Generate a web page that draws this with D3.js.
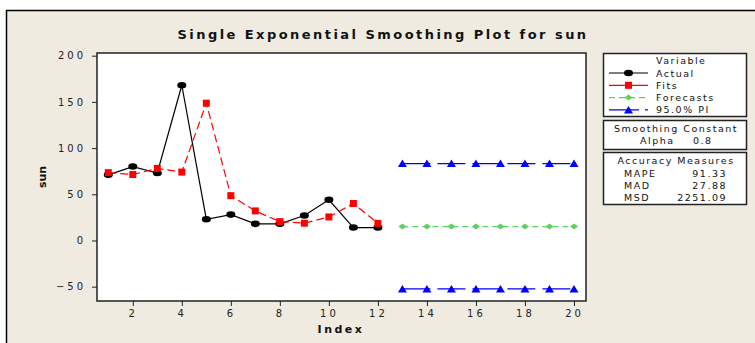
<!DOCTYPE html>
<html lang="en">
<head>
<meta charset="utf-8">
<title>Single Exponential Smoothing Plot for sun</title>
<style>
body{
  margin: 0;
  background: #fff;
}
svg text{
  font-family: "DejaVu Sans", Verdana, sans-serif;
  fill: #111;
}
.axis text{
  font-size: 10px;
  letter-spacing: 3px;
  fill: #222;
}
.axis line{
  stroke: #222;
}
.axis path{
  display: none;
}
.leg text{
  font-size: 9.5px;
  letter-spacing: 1.5px;
}
</style>
</head>
<body>
<div id="chart"></div>
<script src="https://d3js.org/d3.v7.min.js"></script>
<script>
  // values
  const actualIdx = [1, 2, 3, 4, 5, 6, 7, 8, 9, 10, 11, 12];
  const actual = [71, 80, 73, 168, 23, 28, 18, 18, 27, 44, 14, 14];
  const fits = [73.4, 71.4, 78, 74, 148.6, 48.5, 32, 20.4, 18.7, 25.5, 40, 18.5];
  const foreIdx = [13, 14, 15, 16, 17, 18, 19, 20];
  const forecasts = [15.1, 15.1, 15.1, 15.1, 15.1, 15.1, 15.1, 15.1];
  const upperPI = [83.2, 83.2, 83.2, 83.2, 83.2, 83.2, 83.2, 83.2];
  const lowerPI = [-52.4, -52.4, -52.4, -52.4, -52.4, -52.4, -52.4, -52.4];
  const xTicks = [2, 4, 6, 8, 10, 12, 14, 16, 18, 20];
  const yTicks = [-50, 0, 50, 100, 150, 200];
  const accuracy = [["MAPE", "91.33"], ["MAD", "27.88"], ["MSD", "2251.09"]];

  const width = 755, height = 343;
  const plot = { left: 97, top: 53, right: 586, bottom: 301 };

  const svg = d3.select("#chart")
    .append("svg")
    .attr("width", width)
    .attr("height", height);

  // beige frame
  svg.append("rect")
    .attr("x", 6.5).attr("y", 10.5)
    .attr("width", 760).attr("height", 340)
    .attr("fill", "#efebe1")
    .attr("stroke", "#000")
    .attr("stroke-width", 1.5);

  const x = d3.scaleLinear()
    .domain([0.54, 20.49])
    .range([plot.left, plot.right]);

  const y = d3.scaleLinear()
    .domain([-65.5, 202.9])
    .range([plot.bottom, plot.top]);

  svg.append("rect")
    .attr("x", plot.left).attr("y", plot.top)
    .attr("width", plot.right - plot.left)
    .attr("height", plot.bottom - plot.top)
    .attr("fill", "#fff")
    .attr("stroke", "#222")
    .attr("stroke-width", 1.5);

  // axes
  svg.append("g")
    .attr("class", "axis")
    .attr("transform", `translate(0,${plot.bottom})`)
    .call(d3.axisBottom(x).tickValues(xTicks).tickSize(5).tickPadding(4));

  svg.append("g")
    .attr("class", "axis")
    .attr("transform", `translate(${plot.left},0)`)
    .call(d3.axisLeft(y).tickValues(yTicks).tickSize(5).tickPadding(6));

  // title and axis labels
  svg.append("text")
    .attr("x", 383).attr("y", 39)
    .attr("text-anchor", "middle")
    .attr("font-size", 13).attr("font-weight", "bold")
    .attr("letter-spacing", "2.45px")
    .text("Single Exponential Smoothing Plot for sun");

  svg.append("text")
    .attr("x", 341).attr("y", 333)
    .attr("text-anchor", "middle")
    .attr("font-size", 11).attr("font-weight", "bold")
    .attr("letter-spacing", "2.5px")
    .text("Index");

  svg.append("text")
    .attr("transform", "translate(46,177) rotate(-90)")
    .attr("text-anchor", "middle")
    .attr("font-size", 11).attr("font-weight", "bold")
    .text("sun");

  const line = d3.line().x(d => x(d[0])).y(d => y(d[1]));
  const zip = (a, b) => a.map((v, i) => [v, b[i]]);

  const series = [
    { pts: zip(actualIdx, actual), color: "#000", dash: null, shape: "circle" },
    { pts: zip(actualIdx, fits), color: "#f00", dash: "8,4", shape: "square" },
    { pts: zip(foreIdx, forecasts), color: "#5fcf5f", dash: "6,4", shape: "diamond" },
    { pts: zip(foreIdx, upperPI), color: "#0000ff", dash: "28,7", shape: "triangle" },
    { pts: zip(foreIdx, lowerPI), color: "#0000ff", dash: "28,7", shape: "triangle" }
  ];

  function marker(g, shape, color, cx, cy) {
    if (shape === "circle") {
      g.append("ellipse").attr("cx", cx).attr("cy", cy)
        .attr("rx", 4.5).attr("ry", 3.3).attr("fill", color);
    } else if (shape === "square") {
      g.append("rect").attr("x", cx - 3.5).attr("y", cy - 3.5)
        .attr("width", 7).attr("height", 7).attr("fill", color);
    } else if (shape === "diamond") {
      g.append("path")
        .attr("d", `M${cx - 4},${cy}L${cx},${cy - 3}L${cx + 4},${cy}L${cx},${cy + 3}Z`)
        .attr("fill", color);
    } else {
      g.append("path")
        .attr("d", `M${cx - 4.5},${cy + 3.5}L${cx},${cy - 4}L${cx + 4.5},${cy + 3.5}Z`)
        .attr("fill", color);
    }
  }

  series.forEach(s => {
    svg.append("path")
      .attr("d", line(s.pts))
      .attr("fill", "none")
      .attr("stroke", s.color)
      .attr("stroke-width", 1.2)
      .attr("stroke-dasharray", s.dash);
    const g = svg.append("g");
    s.pts.forEach(p => marker(g, s.shape, s.color, x(p[0]), y(p[1])));
  });

  // legend boxes
  const leg = svg.append("g").attr("class", "leg");
  const boxes = [[53, 116], [120, 149], [152, 204]];
  boxes.forEach(b => {
    leg.append("rect")
      .attr("x", 603.5).attr("y", b[0] + 0.5)
      .attr("width", 143).attr("height", b[1] - b[0])
      .attr("fill", "#fff")
      .attr("stroke", "#222")
      .attr("stroke-width", 1.5);
  });

  leg.append("text").attr("x", 656).attr("y", 64).text("Variable");
  const legItems = [
    { name: "Actual", color: "#000", dash: null, shape: "circle" },
    { name: "Fits", color: "#f00", dash: null, shape: "square" },
    { name: "Forecasts", color: "#5fcf5f", dash: "6,4", shape: "diamond" },
    { name: "95.0% PI", color: "#0000ff", dash: "30,6", shape: "triangle" }
  ];
  legItems.forEach((d, i) => {
    const yy = 73 + i * 12.3;
    leg.append("line")
      .attr("x1", 609).attr("x2", 648)
      .attr("y1", yy).attr("y2", yy)
      .attr("stroke", d.color)
      .attr("stroke-width", 1.2)
      .attr("stroke-dasharray", d.dash);
    marker(leg, d.shape, d.color, 628.5, yy);
    leg.append("text").attr("x", 656).attr("y", yy + 3.5).text(d.name);
  });

  leg.append("text").attr("x", 676).attr("y", 132)
    .attr("text-anchor", "middle").text("Smoothing Constant");
  leg.append("text").attr("x", 640).attr("y", 143.5).text("Alpha");
  leg.append("text").attr("x", 693).attr("y", 143.5).text("0.8");

  leg.append("text").attr("x", 676).attr("y", 164)
    .attr("text-anchor", "middle").text("Accuracy Measures");
  accuracy.forEach((d, i) => {
    const yy = 176.5 + i * 12.3;
    leg.append("text").attr("x", 624).attr("y", yy).text(d[0]);
    leg.append("text").attr("x", 727).attr("y", yy)
      .attr("text-anchor", "end").text(d[1]);
  });
</script>
</body>
</html>
